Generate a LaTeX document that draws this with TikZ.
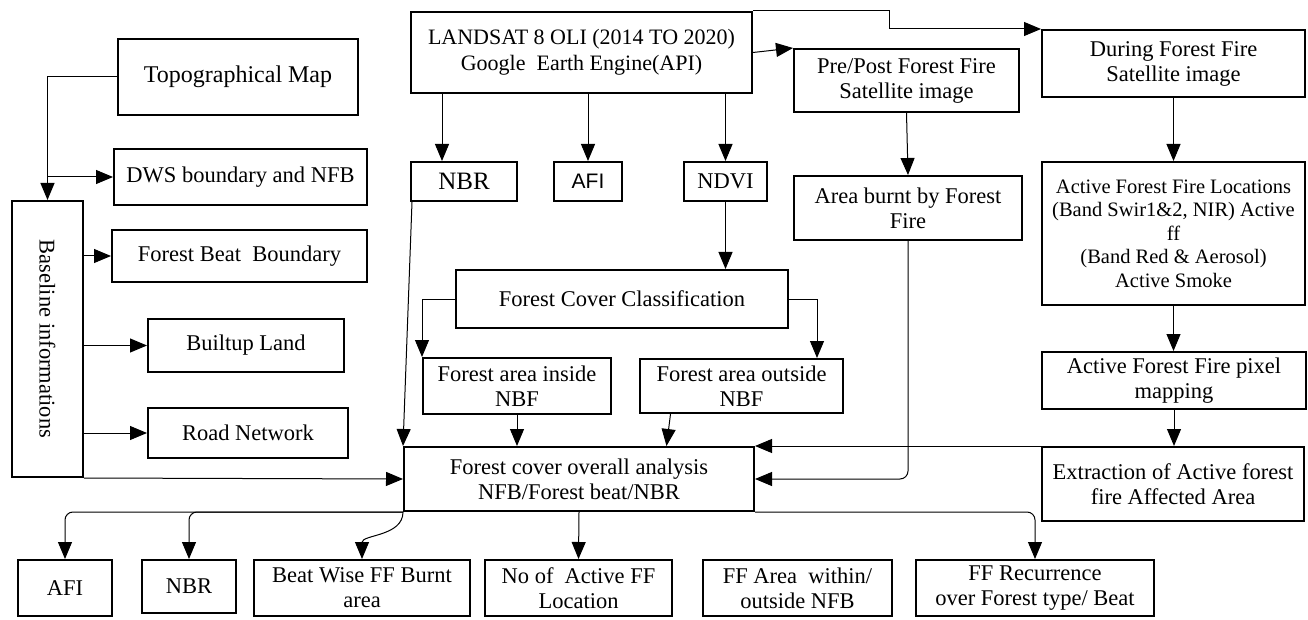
\documentclass[tikz,border=0pt]{standalone}
\usepackage{fontspec}
\setmainfont{Liberation Serif}
\newfontfamily\arialfont{Liberation Sans}
\usetikzlibrary{arrows.meta}

\tikzset{
	box/.style={draw, line width=2pt, inner sep=2pt, align=center, font=\fontsize{22.5}{25}\selectfont},
	arr/.style={line width=1pt, -{Triangle[length=17pt,width=14pt]}},
}

\begin{document}
\begin{tikzpicture}[x=1pt, y=-1pt]
		\useasboundingbox (0,0) rectangle (1308,620);
		% baseline data
		\node[box, minimum width=240pt, minimum height=76pt, font=\fontsize{24}{27}\selectfont] (topo) at (238,77) {Topographical Map};
		\node[box, minimum width=253pt, minimum height=56pt] (dws) at (240.5,177) {DWS boundary and NFB};
		\node[box, minimum width=71pt, minimum height=276pt, label={[rotate=-90, font=\fontsize{22.5}{25}\selectfont]center:Baseline informations}] (base) at (47.5,339) {};
		\node[box, minimum width=255pt, minimum height=52pt] (fbb) at (239.5,256) {Forest Beat\ \ Boundary};
		\node[box, minimum width=196pt, minimum height=53pt] (blt) at (246,345.5) {Builtup Land};
		\node[box, minimum width=200pt, minimum height=50pt] (road) at (248,433) {Road Network};
		
		% satellite data
		\node[box, minimum width=341pt, minimum height=81pt, font=\fontsize{22}{26}\selectfont] (land) at (581.5,52.5) {LANDSAT 8 OLI (2014 TO 2020)\\Google\ \ Earth Engine(API)};
		\node[box, minimum width=106pt, minimum height=39pt, font=\fontsize{25}{27}\selectfont] (nbr) at (464,181.5) {NBR};
		\node[box, minimum width=68pt, minimum height=39pt, font=\arialfont\fontsize{21}{24}\selectfont] (afi) at (588,181.5) {AFI};
		\node[box, minimum width=83pt, minimum height=39pt] (ndvi) at (725.5,181.5) {NDVI};
		\node[box, minimum width=225pt, minimum height=63pt] (pre) at (906.5,80.5) {Pre/Post Forest Fire\\Satellite image};
		\node[box, minimum width=228pt, minimum height=64pt] (burnt) at (908,208) {Area burnt by Forest\\Fire};
		\node[box, minimum width=263pt, minimum height=67pt] (during) at (1173.5,63.5) {During Forest Fire\\Satellite image};
		\node[box, minimum width=263pt, minimum height=143pt, font=\fontsize{20.5}{23.5}\selectfont] (actloc) at (1173.5,233.5) {Active Forest Fire Locations\\(Band Swir1\&2, NIR) Active\\ff\\(Band Red \& Aerosol)\\Active Smoke};
		\node[box, minimum width=264pt, minimum height=57pt] (pixmap) at (1174,380.5) {Active Forest Fire pixel\\mapping};
		\node[box, minimum width=262pt, minimum height=74pt] (extr) at (1173,484) {Extraction of Active forest\\fire Affected Area};
		
		% forest cover
		\node[box, minimum width=332pt, minimum height=58pt] (fcc) at (622,299) {Forest Cover Classification};
		\node[box, minimum width=188pt, minimum height=56pt] (fin) at (517,386) {Forest area inside\\NBF};
		\node[box, minimum width=203pt, minimum height=54pt] (fout) at (741.5,386) {Forest area outside\\NBF};
		\node[box, minimum width=350pt, minimum height=64pt] (ana) at (579,479) {Forest cover overall analysis\\NFB/Forest beat/NBR};
		
		% outputs
		\node[box, minimum width=94pt, minimum height=56pt] (oafi) at (65,588) {AFI};
		\node[box, minimum width=94pt, minimum height=53pt] (onbr) at (189,586.5) {NBR};
		\node[box, minimum width=216pt, minimum height=56pt] (obeat) at (362,588) {Beat Wise FF Burnt\\area};
		\node[box, minimum width=187pt, minimum height=56pt] (oact) at (578.5,588) {No of\ \ Active FF\\Location};
		\node[box, minimum width=189pt, minimum height=56pt] (oarea) at (797.5,588) {FF Area\ \ within/\\outside NFB};
		\node[box, minimum width=238pt, minimum height=56pt] (orec) at (1035,588) {FF Recurrence\\over Forest type/ Beat};
		
		% connectors
		\draw[arr] (topo.west) -| (base.north);
		\draw[arr] (base.north |- dws.west) -- (dws.west);
		\draw[arr] (base.east |- fbb.west) -- (fbb.west);
		\draw[arr] (base.east |- blt.west) -- (blt.west);
		\draw[arr] (base.east |- road.west) -- (road.west);
		\draw[arr] (base.south east) -- (ana.west);
		
		\draw[arr] ([xshift=-22pt]nbr.north |- land.south) -- ([xshift=-22pt]nbr.north);
		\draw[arr] (land.south -| afi.north) -- (afi.north);
		\draw[arr] (land.south -| ndvi.north) -- (ndvi.north);
		\draw[arr] (land.east) -- (pre.north west);
		\draw[arr] (land.north east) -- ++(136,0) |- (during.north west);
		
		\draw[arr] ([xshift=2pt]nbr.south west) -- (ana.north west);
		\draw[arr] (ndvi.south) -- (ndvi.south |- fcc.north);
		\draw[arr] (fcc.west) -| (fin.north west);
		\draw[arr] (fcc.east) -| ([xshift=-27pt]fout.north east);
		\draw[arr] (fin.south) -- (fin.south |- ana.north);
		\draw[arr] ([xshift=-71pt]fout.south) -- ([xshift=-75pt]fout.south |- ana.north);
		
		\draw[arr] (pre.south) -- (burnt.north);
		\draw[arr, rounded corners=8pt] (burnt.south) |- (ana.east);
		\draw[arr] (during.south) -- (during.south |- actloc.north);
		\draw[arr] (actloc.south) -- (actloc.south |- pixmap.north);
		\draw[arr] (pixmap.south) -- (pixmap.south |- extr.north);
		\draw[arr] (extr.north) -- (ana.north east);
		
		\draw[arr, rounded corners=8pt] (ana.south west) -| (oafi.north);
		\draw[arr, rounded corners=8pt] (ana.south west) -| (onbr.north);
		\draw[arr] (ana.south west) to[out=-90, in=90] (obeat.north);
		\draw[arr] (ana.south) -- (oact.north);
		\draw[arr, rounded corners=8pt] (ana.south east) -| (orec.north);
\end{tikzpicture}
\end{document}
